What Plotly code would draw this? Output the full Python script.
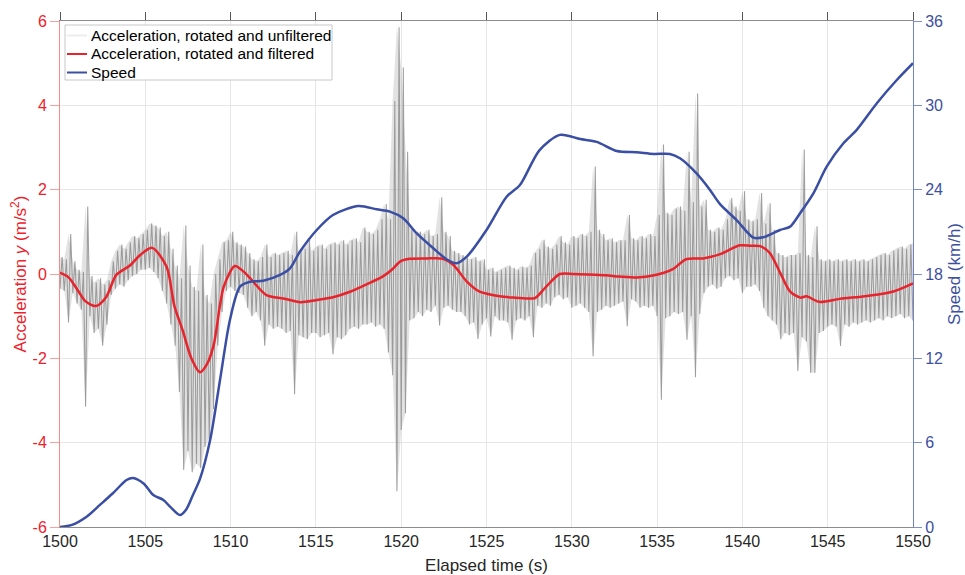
import numpy as np
import plotly.graph_objects as go

# ---- unfiltered lateral acceleration: upper / lower extent per 0.25 s bin (m/s^2)
RAW_T0, RAW_DT = 1500.0, 0.25
RAW_HI = [
    0.40, 0.35, 0.95, 0.30,   0.10, 0.05, 1.60, -0.05,   -0.20, -0.10, -0.25, -0.15,
    0.30, 0.55, 0.70, 0.60,   0.75, 0.90, 0.85, 0.95,   1.05, 1.20, 1.15, 1.10,
    0.90, 1.00, 0.60, 0.20,   -0.10, 1.15, 0.20, -0.30,  -0.40, 0.70, -0.50, -0.70,
    0.00, 0.35, 0.75, 0.80,   1.00, 0.75, 0.70, 0.65,   0.50, 0.35, 0.30, 0.40,
    0.70, 0.40, 0.50, 0.45,   0.50, 0.55, 0.45, 1.00,   0.55, 0.60, 0.85, 0.55,
    0.65, 0.70, 0.60, 0.70,   0.75, 0.70, 0.80, 0.70,   0.80, 0.85, 0.75, 1.10,
    1.00, 0.95, 1.05, 1.30,   1.66, 1.30, 4.10, 5.85,   4.90, 2.90, 1.10, 1.00,
    1.00, 0.95, 1.05, 0.90,   0.95, 1.82, 1.00, 0.90,   0.55, 0.50, 0.45, 0.40,
    0.35, 0.40, 0.30, 0.35,   0.10, 0.15, 0.05, 0.10,   0.15, 0.20, 0.15, 0.10,
    0.18, 0.15, 0.20, 0.50,   0.60, 0.81, 0.65, 0.60,   0.70, 0.90, 0.75, 0.70,
    0.90, 0.85, 0.95, 0.90,   1.00, 2.55, 1.05, 0.95,   0.80, 0.85, 0.75, 0.80,
    0.80, 1.40, 0.85, 0.80,   0.90, 0.85, 0.95, 0.90,   1.40, 3.07, 1.45, 1.40,
    1.55, 1.60, 1.50, 2.90,   1.70, 4.28, 1.60, 1.76,   1.05, 1.00, 1.10, 1.05,
    1.30, 1.80, 1.60, 1.50,   1.96, 1.30, 1.25, 1.30,   1.92, 1.20, 1.68, 1.05,
    0.50, 0.45, 0.40, 0.45,   0.45, 0.50, 2.95, 0.45,   0.40, 1.13, 0.35, 0.30,
    0.35, 0.30, 0.35, 0.30,   0.35, 0.30, 0.35, 0.30,   0.35, 0.30, 0.35, 0.40,
    0.45, 0.50, 0.45, 0.55,   0.60, 0.65, 0.60, 0.70,   0.73,
]
RAW_LO = [
    -0.35, -0.40, -1.15, -0.45,   -0.70, -0.85, -3.15, -1.00,   -1.40, -1.30, -1.70, -1.20,
    -0.50, -0.35, -0.25, -0.30,   -0.15, -0.05, 0.00, 0.10,     0.10, 0.15, 0.05, -0.10,
    -0.40, -0.70, -1.20, -1.70,   -2.80, -4.65, -4.20, -4.70,   -4.50, -4.60, -4.10, -3.90,
    -3.20, -1.70, -0.90, -0.40,   -0.30, -0.40, -0.45, -0.50,   -0.80, -1.00, -0.90, -1.10,
    -1.70, -1.20, -1.30, -1.25,   -1.30, -1.40, -1.35, -2.85,   -1.45, -1.50, -1.55, -1.40,
    -1.40, -1.50, -1.45, -1.40,   -1.90, -1.50, -1.55, -1.45,   -1.30, -1.25, -1.30, -1.20,
    -1.20, -1.15, -1.25, -1.20,   -1.30, -1.86, -2.40, -5.15,   -3.70, -3.30, -1.10, -1.05,
    -0.90, -1.00, -0.85, -0.90,   -0.75, -1.22, -0.80, -0.75,   -0.85, -0.90, -0.90, -1.00,
    -1.20, -1.15, -1.54, -1.20,   -1.05, -1.48, -1.00, -1.10,   -1.10, -1.15, -1.56, -1.10,
    -1.05, -1.10, -1.00, -1.50,   -0.75, -0.80, -0.70, -0.75,   -0.55, -0.50, -0.60, -0.55,
    -0.80, -0.75, -0.70, -0.80,   -0.90, -1.95, -0.90, -0.85,   -0.75, -0.80, -0.75, -0.70,
    -0.65, -1.24, -0.60, -0.65,   -0.80, -0.75, -0.80, -0.75,   -1.00, -2.98, -1.05, -1.00,
    -0.90, -0.95, -0.90, -1.56,   -1.00, -2.45, -0.95, -0.45,   -0.30, -0.25, -0.35, -0.30,
    -0.10, -0.05, -0.15, -0.10,   -0.45, -0.30, -0.30, -0.25,   -0.40, -0.80, -1.00, -1.10,
    -1.20, -1.55, -1.40, -1.45,   -1.40, -2.30, -1.50, -1.60,   -2.34, -2.34, -1.40, -1.35,
    -1.25, -1.20, -1.25, -1.71,   -1.20, -1.25, -1.15, -1.20,   -1.15, -1.10, -1.15, -1.10,
    -1.05, -1.10, -1.00, -1.05,   -1.00, -0.95, -1.05, -1.00,   -1.10,
]

# ---- filtered lateral acceleration (m/s^2)
ACC_T = [1500, 1500.5, 1501, 1501.5, 1502.1, 1502.7, 1503.3, 1504.1, 1504.7, 1505.4,
         1506.25, 1506.7, 1507.2, 1507.7, 1508.2, 1508.6, 1509.0, 1509.6, 1510.25, 1510.7,
         1511.1, 1512.1, 1513.1, 1514.1, 1515.0, 1516.0, 1517.0, 1518.0, 1518.95, 1519.5,
         1519.95, 1520.5, 1521.5, 1522.45, 1523.05, 1523.85, 1524.6, 1525.8, 1526.6, 1527.4,
         1527.85, 1528.5, 1529.3, 1530.1, 1530.9, 1532.0, 1532.8, 1534.0, 1535.4, 1535.95,
         1536.7, 1537.7, 1538.7, 1539.85, 1540.5, 1541.05, 1541.6, 1542.2, 1542.8, 1543.4,
         1543.75, 1544.5, 1545.7, 1547.3, 1548.8, 1550]
ACC_F = [0.03, -0.08, -0.36, -0.65, -0.76, -0.55, -0.02, 0.20, 0.45, 0.62,
         0.17, -0.75, -1.35, -2.00, -2.33, -2.15, -1.70, -0.30, 0.19, 0.08,
         -0.08, -0.50, -0.58, -0.67, -0.62, -0.55, -0.42, -0.24, -0.05, 0.12,
         0.30, 0.36, 0.37, 0.36, 0.22, -0.18, -0.42, -0.53, -0.56, -0.58,
         -0.57, -0.30, 0.00, 0.00, -0.01, -0.03, -0.06, -0.08, 0.03, 0.12,
         0.35, 0.37, 0.47, 0.68, 0.67, 0.66, 0.50, 0.04, -0.42, -0.56,
         -0.53, -0.66, -0.59, -0.52, -0.42, -0.22]

# ---- speed (km/h)
SPD_T = [1500, 1500.7, 1501.56, 1502.34, 1503.1, 1503.9, 1504.28, 1504.9, 1505.47, 1506.06,
         1506.45, 1507.03, 1507.4, 1507.8, 1508.2, 1508.8, 1509.38, 1509.96, 1510.55, 1511.14,
         1511.92, 1512.9, 1513.48, 1514.07, 1515.05, 1516.0, 1517.5, 1518.56, 1519.34, 1520.12,
         1520.9, 1521.88, 1522.66, 1523.25, 1523.84, 1525.0, 1526.18, 1526.96, 1528.1, 1529.3,
         1530.5, 1531.46, 1532.63, 1533.8, 1534.8, 1535.75, 1536.34, 1537.3, 1538.1, 1538.7,
         1539.66, 1540.64, 1541.22, 1542.2, 1542.8, 1543.38, 1544.16, 1544.94, 1545.92, 1546.7,
         1547.88, 1549.05, 1550]
SPEED = [0.0, 0.15, 0.73, 1.57, 2.40, 3.34, 3.49, 3.10, 2.28, 1.92,
         1.45, 0.85, 1.25, 2.30, 3.40, 6.19, 10.46, 14.73, 17.10, 17.45,
         17.52, 17.93, 18.40, 19.60, 21.13, 22.20, 22.84, 22.60, 22.44, 21.96,
         20.90, 19.83, 19.05, 18.76, 19.23, 21.13, 23.50, 24.33, 26.80, 27.90,
         27.60, 27.40, 26.75, 26.66, 26.54, 26.54, 26.23, 25.17, 23.98, 22.95,
         21.84, 20.59, 20.61, 21.13, 21.37, 22.32, 23.74, 25.64, 27.30, 28.25,
         30.15, 31.80, 33.00]

X_TICKS = [1500, 1505, 1510, 1515, 1520, 1525, 1530, 1535, 1540, 1545, 1550]
ACC_TICKS = [-6, -4, -2, 0, 2, 4, 6]
SPD_TICKS = [0, 6, 12, 18, 24, 30, 36]

LEGEND_NAMES = ["Acceleration, rotated and unfiltered",
                "Acceleration, rotated and filtered",
                "Speed"]

FONT = "Liberation Sans, Arial, Helvetica, sans-serif"
RED = "#e8232b"
BLUE = "#3a4ea3"
GRAY = "#8f8f8f"
LEGEND_SWATCH = ["#ececec", RED, BLUE]

# plot-area geometry in pixels, used to place the legend box
W, H = 965, 575
ML, MR, MT, MB = 60, 52, 21, 48
PW, PH = W - ML - MR, H - MT - MB


def px(x):
    return (x - ML) / PW


def py(y):
    return 1 - (y - MT) / PH


# raw trace: each bin runs from its lower to its upper extent
raw_t = RAW_T0 + RAW_DT * np.arange(len(RAW_HI))
zig_t, zig_y = [], []
for t, lo, hi in zip(raw_t, RAW_LO, RAW_HI):
    zig_t += [t, t + RAW_DT / 2]
    zig_y += [lo, hi]

fig = go.Figure()
# light band spanning the raw signal's extent
fig.add_trace(go.Scatter(x=raw_t, y=RAW_LO, mode="lines", showlegend=False,
                         line=dict(width=0, color="#d0d0d0"), hoverinfo="skip"))
fig.add_trace(go.Scatter(x=raw_t, y=RAW_HI, mode="lines", showlegend=False,
                         line=dict(width=0, color="#d0d0d0"), fill="tonexty",
                         fillcolor="rgba(160,160,160,0.30)", hoverinfo="skip"))
fig.add_trace(go.Scatter(x=zig_t, y=zig_y, mode="lines", showlegend=False,
                         line=dict(color=GRAY, width=1.05), opacity=0.85,
                         hoverinfo="skip"))
fig.add_trace(go.Scatter(x=ACC_T, y=ACC_F, mode="lines", showlegend=False,
                         name=LEGEND_NAMES[1],
                         line=dict(color=RED, width=2.5, shape="spline", smoothing=0.8)))
fig.add_trace(go.Scatter(x=SPD_T, y=SPEED, mode="lines", yaxis="y2", showlegend=False,
                         name=LEGEND_NAMES[2],
                         line=dict(color=BLUE, width=2.5, shape="spline", smoothing=0.8)))
# anchor for the mirrored top axis
fig.add_trace(go.Scatter(x=[X_TICKS[0]], y=[ACC_TICKS[-1] + 10], mode="lines",
                         xaxis="x2", showlegend=False, hoverinfo="skip"))

# legend box
shapes = [dict(type="rect", xref="paper", yref="paper",
               x0=px(65), x1=px(332), y0=py(80), y1=py(25),
               line=dict(color="#c8c8c8", width=1), fillcolor="white", layer="above")]
annotations = []
for i, (name, col) in enumerate(zip(LEGEND_NAMES, LEGEND_SWATCH)):
    yc = 35.5 + 18.5 * i
    shapes.append(dict(type="line", xref="paper", yref="paper",
                       x0=px(67), x1=px(87), y0=py(yc), y1=py(yc),
                       line=dict(color=col, width=2), layer="above"))
    annotations.append(dict(text=name, xref="paper", yref="paper", x=px(89), y=py(yc),
                            xanchor="left", yanchor="middle", showarrow=False,
                            font=dict(size=15.5, color="#000000", family=FONT)))

fig.update_layout(
    width=W, height=H,
    margin=dict(l=ML, r=MR, t=MT, b=MB),
    paper_bgcolor="white", plot_bgcolor="white",
    font=dict(family=FONT, size=16, color="#262626"),
    showlegend=False,
    shapes=shapes, annotations=annotations,
    xaxis=dict(range=[1500, 1550], tickvals=X_TICKS, ticks="", showline=True,
               linecolor="#8c8c8c", linewidth=1, showgrid=True, gridcolor="#e6e6e6",
               zeroline=False, tickfont=dict(size=16, color="#262626"),
               title=dict(text="Elapsed time (s)", font=dict(size=17, color="#262626"),
                          standoff=10),
               automargin=False),
    xaxis2=dict(range=[1500, 1550], overlaying="x", side="top", tickvals=X_TICKS,
                ticks="outside", ticklen=8, tickcolor="#555555", showticklabels=False,
                showline=True, linecolor="#8c8c8c", linewidth=1, showgrid=False,
                zeroline=False),
    yaxis=dict(range=[-6, 6], tickvals=ACC_TICKS, ticktext=[str(v) for v in ACC_TICKS],
               ticks="outside", ticklen=9, tickcolor="#f7a0a0", showline=True,
               linecolor="#f58c8c", linewidth=1, showgrid=True, gridcolor="#e6e6e6",
               zeroline=False, tickfont=dict(size=16, color="#f0202a"),
               title=dict(text="Acceleration <i>y</i> (m/s<sup>2</sup>)",
                          font=dict(size=17, color="#f0202a"), standoff=1),
               automargin=False),
    yaxis2=dict(range=[0, 36], tickvals=SPD_TICKS, overlaying="y", side="right",
                ticks="outside", ticklen=8, tickcolor="#7f90cf", showline=True,
                linecolor="#6f83c8", linewidth=1, showgrid=False, zeroline=False,
                tickfont=dict(size=16, color="#3d50a0"),
                title=dict(text="Speed (km/h)", font=dict(size=17, color="#3d50a0"),
                           standoff=6),
                automargin=False),
)

fig.write_html("out.html")
